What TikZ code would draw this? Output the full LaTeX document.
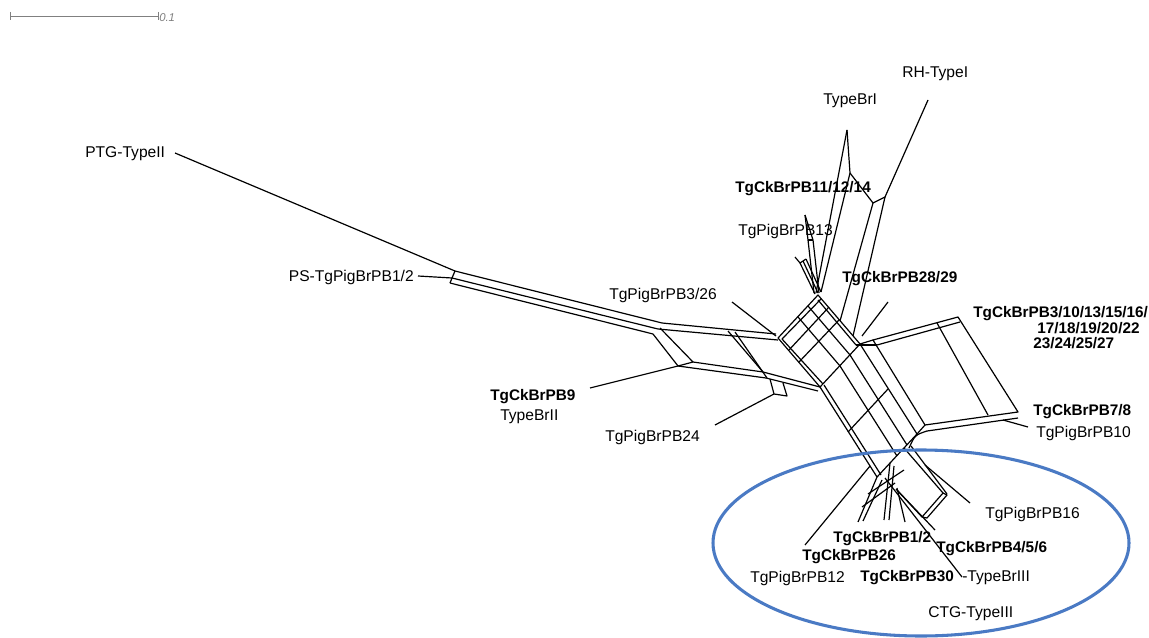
\documentclass[tikz,border=0pt]{standalone}
\usepackage{fontspec}
\setmainfont{Liberation Sans}
\definecolor{ellblue}{RGB}{74,122,196}
\begin{document}
\begin{tikzpicture}[x=0.75pt,y=-0.75pt,
  net/.style={line width=0.9pt, black, line join=round},
  lab/.style={font=\fontsize{11.7}{13}\selectfont, inner sep=0pt},
  blab/.style={font=\fontsize{11.5}{13}\selectfont\bfseries, inner sep=0pt}]
\path[use as bounding box, fill=white] (0,0) rectangle (1149,638);

% scale bar
\coordinate (sb0) at (10,16);
\coordinate (sb1) at (158,16);
\draw[gray, line width=0.6pt] (sb0) -- (sb1);
\draw[gray, line width=0.6pt] (10,12) -- (10,20) (158,12) -- (158,20);
\node[anchor=west, inner sep=0pt, text=gray, font=\fontsize{8.5}{10}\selectfont\itshape] (sbl) at (159,18) {0.1};

% ---------- left arm ----------
\draw[net] (175,153) -- (455,271);
\draw[net] (418,276) -- (452,278);
\draw[net] (455,271) -- (452,278) -- (450,283);
\draw[net] (455,271) -- (662,323) -- (776,334);
\draw[net] (452,278) -- (658,329) -- (778,340);
\draw[net] (450,283) -- (653,334);
\draw[net] (653,334) -- (678,366) -- (693,362) -- (660,328);
\draw[net] (590,388) -- (678,366);
\draw[net] (693,362) -- (763,372) -- (820,387);
\draw[net] (678,366) -- (766,378) -- (818,391);
\draw[net] (728,331) -- (763,372);
\draw[net] (735,332) -- (767,378);
\draw[net] (770,379) -- (774,394) -- (787,396) -- (783,383);
\draw[net] (715,425) -- (774,394);
\draw[net] (732,302) -- (776,336);

% ---------- central rhombus ----------
\draw[net] (818,295) -- (778,338) -- (820,387) -- (860,344) -- cycle;
\draw[net] (821,299) -- (782,339) -- (823,384);
\draw[net] (818,300) -- (856,345);
\draw[net] (839,320) -- (799,362);
\draw[net] (829,307) -- (789,350);
\draw[net] (798,317) -- (840,366);
\draw[net] (808,306) -- (850,355);

% ---------- strip toward lower arm ----------
\draw[net] (820,387) -- (877,477);
\draw[net] (824,385) -- (881,475);
\draw[net] (840,366) -- (897,456);
\draw[net] (850,355) -- (907,445);
\draw[net] (860,344) -- (917,434);
\draw[net] (877,477) -- (917,434);
\draw[net] (848,432) -- (888,389);
\draw[net] (860,344) -- (873,340);
\draw[net] (856,345) -- (877,345);

% ---------- right box ----------
\draw[net] (873,340) -- (958,317) -- (1018,412) -- (925,425) -- cycle;
\draw[net] (877,345) -- (960,322);
\draw[net] (937,323) -- (988,415);
\draw[net] (927,431) -- (1018,418);
\draw[net] (917,434) -- (925,425);
\draw[net] (927,431) .. controls (915,435) .. (909,448);
\draw[net] (1003,420) -- (1028,427);
\draw[net] (888,302) -- (862,336);

% ---------- upper arm ----------
\draw[net] (873,203) -- (840,321);
\draw[net] (885,197) -- (853,336);
\draw[net] (928,100) -- (885,197) -- (873,203);
\draw[net] (847,130) -- (816,293);
\draw[net] (847,130) -- (850,173) -- (821,292);
\draw[net] (850,173) -- (873,203);
\draw[net] (805,215) -- (808,240) -- (814,293);
\draw[net] (805,215) -- (813,240) -- (819,293);
\draw[net] (808,240) -- (813,240);
\draw[net] (795,257) -- (800,263) -- (815,294);
\draw[net] (803,261) -- (818,293);
\draw[net] (806,259) -- (821,292);
\draw[net] (800,263) -- (806,259);

% ---------- lower cluster ----------
\draw[net] (870,466) -- (805,545);
\draw[net] (877,477) -- (858,522);
\draw[net] (882,480) -- (863,521);
\draw[net] (890,463) -- (884,520);
\draw[net] (894,466) -- (889,520);
\draw[net] (897,488) -- (905,522);
\draw[net] (862,507) -- (895,483);
\draw[net] (868,494) -- (904,470);
\draw[net] (885,478) -- (962,577);
\draw[net] (897,490) -- (935,530);
\draw[net] (904,448) -- (943,493);
\draw[net] (911,446) -- (947,494);
\draw[net] (943,493) -- (922,517) -- (927,518) -- (947,495) -- cycle;
\draw[net] (922,517) -- (896,489);
\draw[net] (925,465) -- (970,503);

% ---------- ellipse ----------
\draw[ellblue, line width=2.3pt] (921,543) ellipse [x radius=208, y radius=93];

% ---------- labels ----------
\node[lab, anchor=base west] (ptg) at (85,158) {PTG-TypeII};
\node[lab, anchor=base east] (ps) at (414,281) {PS-TgPigBrPB1/2};
\node[lab, anchor=base west] (p326) at (609,299) {TgPigBrPB3/26};
\node[blab, anchor=base west] (ck9) at (490,400) {TgCkBrPB9};
\node[lab, anchor=base west] (b2) at (500,420) {TypeBrII};
\node[lab, anchor=base west] (p24) at (605,441) {TgPigBrPB24};
\node[lab, anchor=base west] (b1) at (823,105) {TypeBrI};
\node[lab, anchor=base west] (rh) at (902,78) {RH-TypeI};
\node[blab, anchor=base west] (ck11) at (735,192) {TgCkBrPB11/12/14};
\node[lab, anchor=base west] (p13) at (738,235) {TgPigBrPB13};
\node[blab, anchor=base west] (ck28) at (842,282) {TgCkBrPB28/29};
\node[blab, anchor=base west] (ck3a) at (973,317) {TgCkBrPB3/10/13/15/16/};
\node[blab, anchor=base west] (ck3b) at (1037,333) {17/18/19/20/22};
\node[blab, anchor=base west] (ck3c) at (1033,348) {23/24/25/27};
\node[blab, anchor=base west] (ck7) at (1033,415) {TgCkBrPB7/8};
\node[lab, anchor=base west] (p10) at (1036,437) {TgPigBrPB10};
\node[lab, anchor=base west] (p16) at (985,518) {TgPigBrPB16};
\node[blab, anchor=base west] (ck1) at (833,542) {TgCkBrPB1/2};
\node[blab, anchor=base west] (ck4) at (936,552) {TgCkBrPB4/5/6};
\node[blab, anchor=base west] (ck26) at (802,560) {TgCkBrPB26};
\node[lab, anchor=base west] (p12) at (750,582) {TgPigBrPB12};
\node[blab, anchor=base west] (ck30) at (860,581) {TgCkBrPB30};
\node[lab, anchor=base west] (b3) at (962,581) {-TypeBrIII};
\node[lab, anchor=base west] (ctg) at (928,617) {CTG-TypeIII};
\end{tikzpicture}
\end{document}
